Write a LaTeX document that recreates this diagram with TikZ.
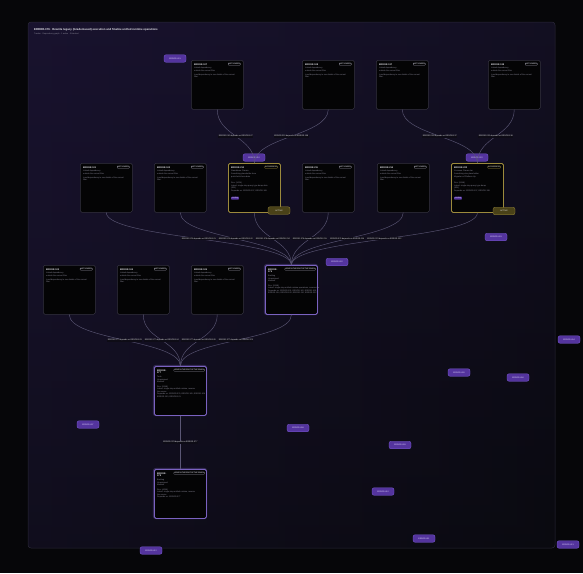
\documentclass[tikz,border=0pt]{standalone}
\usepackage{fontspec}
\setmainfont{Liberation Sans}
\definecolor{outerbg}{HTML}{060609}
\definecolor{paneltop}{HTML}{1C1534}
\definecolor{panelbot}{HTML}{0A0A10}
\definecolor{panelborder}{HTML}{2A2838}
\definecolor{cardfill}{HTML}{040405}
\definecolor{cardborder}{HTML}{34323F}
\definecolor{goldb}{HTML}{9C8A3C}
\definecolor{goldfill}{HTML}{4A4218}
\definecolor{selb}{HTML}{7A62C0}
\definecolor{edgec}{HTML}{5A5674}
\definecolor{txtw}{HTML}{E8E8EE}
\definecolor{txtg}{HTML}{8A8898}
\definecolor{pillfill}{HTML}{54349E}
\definecolor{pillborder}{HTML}{7C5CD6}
\definecolor{pilltxt}{HTML}{E4DCFF}
\definecolor{lblbg}{HTML}{0E0C16}
\tikzset{
  cardbox/.style={draw=cardborder, fill=cardfill, line width=0.5pt, rounded corners=1.5pt,
    anchor=north west, minimum width=52pt, minimum height=49pt, inner sep=0pt},
  goldcard/.style={cardbox, draw=goldb, line width=0.8pt},
  selcard/.style={cardbox, draw=selb, line width=0.8pt},
  hdr/.style={anchor=north west, inner sep=0pt, text=txtw, align=left, font=\fontsize{2.3}{2.9}\selectfont\bfseries},
  badge/.style={anchor=north east, inner sep=0.6pt, draw=txtg, line width=0.25pt, rounded corners=0.8pt,
    text=txtw, font=\fontsize{1.7}{2}\selectfont},
  ln/.style={anchor=north west, inner sep=0pt, text=txtg, font=\fontsize{2}{2.6}\selectfont, align=left},
  edge/.style={draw=edgec, line width=0.45pt},
  elabel/.style={fill=lblbg, inner sep=0.5pt, text=txtw, font=\fontsize{2}{2.4}\selectfont},
  pill/.style={fill=pillfill, draw=pillborder, line width=0.3pt, rounded corners=2pt,
    minimum width=22pt, minimum height=7.5pt, inner sep=0pt, text=pilltxt, font=\fontsize{2}{2.4}\selectfont},
  goldpill/.style={pill, fill=goldfill, draw=goldb, text=txtw},
  chip/.style={anchor=north west, fill=pillfill, rounded corners=0.6pt, inner sep=0.6pt, text=pilltxt,
    font=\fontsize{1.8}{2}\selectfont},
  glow/.style={selb, opacity=0.35, line width=2.2pt, rounded corners=2pt},
}
\newcommand\stdcard[4]{%
  \node[cardbox] (#1) at (#2,#3) {};
  \node[hdr] at ([shift={(3,3.2)}]#1.north west) {#4};
  \node[badge] at ([shift={(-3,2.8)}]#1.north east) {NOT LOADED};
  \node[ln] at ([shift={(3,7.2)}]#1.north west) {Linked dependency\\outside the current filter};
  \node[ln] at ([shift={(3,13.6)}]#1.north west) {Load dependency to see details of the current\\filter.};
}
\newcommand\dep[3]{%
  \draw[edge] (#1.south) .. controls +(0,26) and +(0,-26) .. (#2.north)
    node[pos=0.5, elabel] {#3};
}
\begin{document}
\begin{tikzpicture}[x=1pt,y=-1pt]
\useasboundingbox (0,0) rectangle (583,573);
\fill[outerbg] (0,0) rectangle (583,573);
\shade[top color=paneltop, bottom color=panelbot, rounded corners=3pt] (28,22) rectangle (555,548);
\shade[left color=paneltop!80!black, right color=panelbot, opacity=0.5, rounded corners=3pt] (28,22) rectangle (555,548);
\draw[panelborder, line width=0.5pt, rounded corners=3pt] (28,22) rectangle (555,548);
\node[anchor=north west, inner sep=0pt, text=txtw, font=\fontsize{2.8}{3.2}\selectfont\bfseries] (title) at (34,28.5)
  {ERROR-376 \textperiodcentered{} Rewrite legacy (Grade-based) execution and finalize unified runtime operations};
\node[anchor=north west, inner sep=0pt, text=txtg, font=\fontsize{2}{2.4}\selectfont] (subtitle) at (34,32.8)
  {Tracker \textperiodcentered{} Dependency graph \textperiodcentered{} 1 active \textperiodcentered{} 3 blocked};

% row 1
\stdcard{a1}{191}{60}{ERROR-107}
\stdcard{a2}{302}{60}{ERROR-108}
\stdcard{a3}{376}{60}{ERROR-137}
\stdcard{a4}{488}{60}{ERROR-138}

% row 2
\stdcard{b1}{80}{163}{ERROR-101}
\stdcard{b2}{154}{163}{ERROR-102}
\node[goldcard] (b3) at (228,163) {};
\node[hdr] at ([shift={(3,3.2)}]b3.north west) {ERROR-210};
\node[badge, draw=goldb] at ([shift={(-3,2.8)}]b3.north east) {IN PROGRESS};
\node[ln] at ([shift={(3,7.2)}]b3.north west) {Standalone Climate\\Something placeholder here\\quick-fetch-form-data};
\node[ln] at ([shift={(3,19)}]b3.north west) {Rev: (1024)\\Latest: single-step query type dump data\\(ERI)\\Depends on: ERROR-107, ERROR-108};
\node[chip] at ([shift={(3,33.5)}]b3.north west) {pending};
\stdcard{b4}{302}{163}{ERROR-211}
\stdcard{b5}{377}{163}{ERROR-214}
\node[goldcard] (b6) at (451,163) {};
\node[hdr] at ([shift={(3,3.2)}]b6.north west) {ERROR-222};
\node[badge, draw=goldb] at ([shift={(-3,2.8)}]b6.north east) {IN PROGRESS};
\node[ln] at ([shift={(3,7.2)}]b6.north west) {Common Climate tier\\Something else placeholder\\Migration of Platform Up};
\node[ln] at ([shift={(3,19)}]b6.north west) {Rev: (2048)\\Latest: single-step query type dump\\(ERI)\\Depends on: ERROR-137, ERROR-138};
\node[chip] at ([shift={(3,33.5)}]b6.north west) {pending};
\node[pill] (p-b3) at (254,157.5) {ERROR-210};
\node[pill] (p-b6) at (477,157.5) {ERROR-222};
\node[goldpill] (g-b3) at (279,210.5) {ACTIVE};
\node[goldpill] (g-b6) at (504,211) {ACTIVE};

% row 3
\stdcard{c1}{43}{265}{ERROR-103}
\stdcard{c2}{117}{265}{ERROR-104}
\stdcard{c3}{191}{265}{ERROR-105}
\draw[glow] (265,265) rectangle (317,314);
\node[selcard] (c4) at (265,265) {};
\node[hdr] at ([shift={(3,3.2)}]c4.north west) {ERROR-\\376};
\node[badge] at ([shift={(-2,2.8)}]c4.north east) {ISSUE IN THE ROOT OF THE GRAPH};
\node[ln] at ([shift={(3,9.8)}]c4.north west) {Backlog\\Unassigned\\Medium};
\node[ln] at ([shift={(3,19.5)}]c4.north west) {Rev: (2048)\\Latest: single-step unified runtime operations, reverse the\\Depends on: ERROR-101, ERROR-102, ERROR-103,\\ERROR-104, ERROR-105, ERROR-210, ERROR-222};

% row 4
\draw[glow] (154,366) rectangle (206,415);
\node[selcard] (d1) at (154,366) {};
\node[hdr] at ([shift={(3,3.2)}]d1.north west) {ERROR-\\377};
\node[badge] at ([shift={(-2,2.8)}]d1.north east) {ISSUE IN THE ROOT OF THE GRAPH};
\node[ln] at ([shift={(3,9.8)}]d1.north west) {Todo\\Unassigned\\Medium};
\node[ln] at ([shift={(3,19.5)}]d1.north west) {Rev: (2048)\\Latest: single-step unified runtime, reverse\\the source\\Depends on: ERROR-376, ERROR-105, ERROR-104\\ERROR-103, ERROR-101};

% row 5
\draw[glow] (154,469) rectangle (206,518);
\node[selcard] (e1) at (154,469) {};
\node[hdr] at ([shift={(3,3.2)}]e1.north west) {ERROR-\\378};
\node[badge] at ([shift={(-2,2.8)}]e1.north east) {ISSUE IN THE ROOT OF THE GRAPH};
\node[ln] at ([shift={(3,9.8)}]e1.north west) {Backlog\\Unassigned\\Medium};
\node[ln] at ([shift={(3,19.5)}]e1.north west) {Rev: (4096)\\Latest: single-step unified runtime, reverse\\the source\\Depends on: ERROR-377};

% edges
\dep{a1}{b3}{ERROR-210 depends on ERROR-107}
\dep{a2}{b3}{ERROR-210 depends on ERROR-108}
\dep{a3}{b6}{ERROR-222 depends on ERROR-137}
\dep{a4}{b6}{ERROR-222 depends on ERROR-138}
\dep{b1}{c4}{ERROR-376 depends on ERROR-101}
\dep{b2}{c4}{ERROR-376 depends on ERROR-102}
\dep{b3}{c4}{ERROR-376 depends on ERROR-210}
\dep{b4}{c4}{ERROR-376 depends on ERROR-211}
\dep{b5}{c4}{ERROR-376 depends on ERROR-214}
\dep{b6}{c4}{ERROR-376 depends on ERROR-222}
\dep{c1}{d1}{ERROR-377 depends on ERROR-103}
\dep{c2}{d1}{ERROR-377 depends on ERROR-104}
\dep{c3}{d1}{ERROR-377 depends on ERROR-105}
\dep{c4}{d1}{ERROR-377 depends on ERROR-376}
\dep{d1}{e1}{ERROR-378 depends on ERROR-377}

% floating pills
\node[pill] (f1) at (175,58.5) {ERROR-401};
\node[pill] (f2) at (337,262) {ERROR-402};
\node[pill] (f3) at (496,237) {ERROR-403};
\node[pill] (f4) at (569,339.5) {ERROR-404};
\node[pill] (f5) at (459,372.5) {ERROR-405};
\node[pill] (f6) at (518,377.5) {ERROR-406};
\node[pill] (f7) at (88,424.5) {ERROR-407};
\node[pill] (f8) at (298,428) {ERROR-408};
\node[pill] (f9) at (400,445) {ERROR-409};
\node[pill] (f10) at (383,491.5) {ERROR-410};
\node[pill] (f11) at (424,538.5) {ERROR-411};
\node[pill] (f12) at (151,550.5) {ERROR-412};
\node[pill] (f13) at (568,544.5) {ERROR-413};
\end{tikzpicture}
\end{document}
